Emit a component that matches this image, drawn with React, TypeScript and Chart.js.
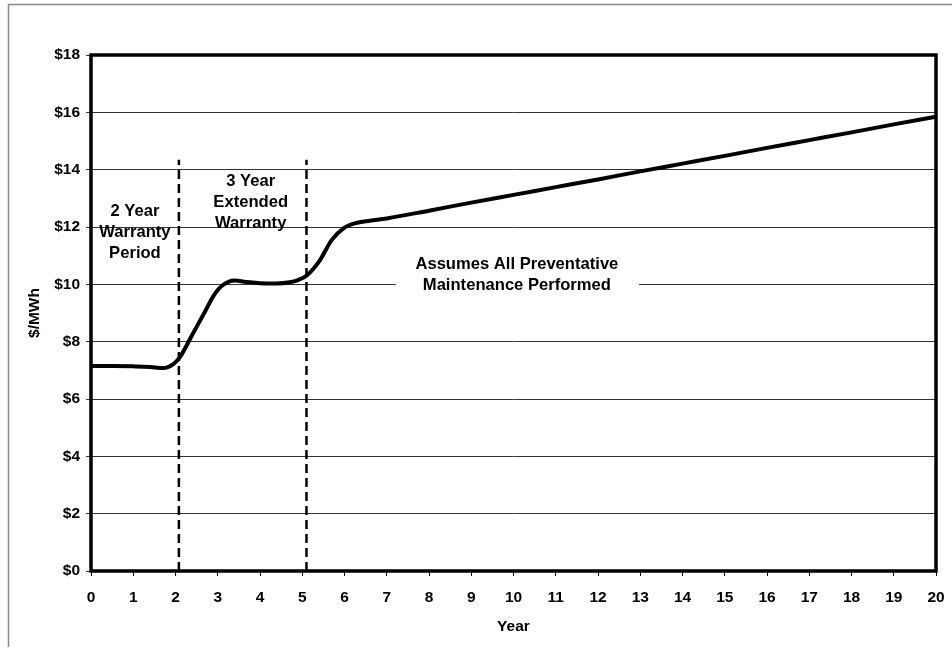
import React, { useEffect, useRef } from "react";
import { Chart, registerables } from "chart.js";

Chart.register(...registerables);

const years = [0, 0.5, 1, 1.4, 1.7, 1.95, 2.1, 2.4, 2.7, 2.9, 3.1, 3.4, 3.7, 4.0, 4.4, 4.7, 4.9, 5.1, 5.4, 5.7, 6.0, 6.3, 6.6, 7, 8, 9, 10, 11, 12, 13, 14, 15, 16, 17, 18, 19, 20];
const costs = [7.15, 7.15, 7.14, 7.12, 7.08, 7.22, 7.45, 8.25, 9.05, 9.6, 9.95, 10.13, 10.08, 10.04, 10.03, 10.07, 10.15, 10.3, 10.8, 11.55, 11.98, 12.15, 12.22, 12.3, 12.57, 12.85, 13.12, 13.39, 13.66, 13.94, 14.21, 14.48, 14.76, 15.03, 15.3, 15.58, 15.85];
const dividerYears = [2.08, 5.1];
const dividerTop = 14.35;
const yMin = 0;
const yMax = 18;
const yStep = 2;
const xMin = 0;
const xMax = 20;

const labelWarranty = ["2 Year", "Warranty", "Period"];
const labelExtended = ["3 Year", "Extended", "Warranty"];
const labelMaint = ["Assumes All Preventative", "Maintenance Performed"];
const xTitle = "Year";
const yTitle = "$/MWh";

const FONT = "'Liberation Sans', Arial, Helvetica, sans-serif";

export default function App() {
  const ref = useRef<HTMLCanvasElement | null>(null);
  useEffect(() => {
    if (!ref.current) return;
    const annot = {
      id: "annot",
      beforeDraw(chart: any) {
        const ctx = chart.ctx;
        ctx.save();
        ctx.fillStyle = "#fff";
        ctx.fillRect(0, 0, chart.width, chart.height);
        ctx.strokeStyle = "#888";
        ctx.lineWidth = 1.5;
        ctx.beginPath();
        ctx.moveTo(952, 4.5);
        ctx.lineTo(8.5, 4.5);
        ctx.lineTo(8.5, 647);
        ctx.stroke();
        ctx.restore();
      },
      beforeDatasetsDraw(chart: any) {
        const ctx = chart.ctx;
        const xs = chart.scales.x;
        const ys = chart.scales.y;
        ctx.save();
        ctx.fillStyle = "#fff";
        const cx = xs.getPixelForValue(10.08);
        const cy = ys.getPixelForValue(10);
        ctx.fillRect(cx - 121, cy - 10, 243, 20);
        ctx.restore();
      },
      afterDatasetsDraw(chart: any) {
        const ctx = chart.ctx;
        const xs = chart.scales.x;
        const ys = chart.scales.y;
        const a = chart.chartArea;
        ctx.save();
        ctx.strokeStyle = "#000";
        ctx.lineWidth = 3.5;
        ctx.strokeRect(a.left, a.top, a.right - a.left, a.bottom - a.top);
        ctx.fillStyle = "#000";
        ctx.font = `bold 16.6px ${FONT}`;
        ctx.textAlign = "center";
        ctx.textBaseline = "middle";
        const drawLines = (lines: string[], xv: number, yv: number) => {
          const px = xs.getPixelForValue(xv);
          const py = ys.getPixelForValue(yv);
          lines.forEach((l, i) => ctx.fillText(l, px, py + i * 21));
        };
        drawLines(labelWarranty, 1.04, 12.53);
        drawLines(labelExtended, 3.78, 13.58);
        drawLines(labelMaint, 10.08, 10.71);
        ctx.font = `bold 15.5px ${FONT}`;
        ctx.fillText(xTitle, (a.left + a.right) / 2, 627);
        ctx.translate(35, (a.top + a.bottom) / 2);
        ctx.rotate(-Math.PI / 2);
        ctx.fillText(yTitle, 0, 0);
        ctx.restore();
      },
    };

    const chart = new Chart(ref.current, {
      type: "line",
      data: {
        datasets: [
          {
            data: years.map((x, i) => ({ x, y: costs[i] })),
            borderColor: "#000",
            borderWidth: 4,
            pointRadius: 0,
            cubicInterpolationMode: "monotone",
            fill: false,
          },
          ...dividerYears.map((d) => ({
            data: [
              { x: d, y: yMin },
              { x: d, y: dividerTop },
            ],
            borderColor: "#000",
            borderWidth: 2.5,
            borderDash: [9, 5],
            pointRadius: 0,
            fill: false,
          })),
        ],
      },
      options: {
        responsive: false,
        animation: false,
        layout: { padding: { left: 0, top: 55, right: 16, bottom: 38 } },
        plugins: { legend: { display: false }, tooltip: { enabled: false } },
        scales: {
          x: {
            type: "linear",
            min: xMin,
            max: xMax,
            afterFit: (s: any) => {
              s.height = 40;
              s.paddingRight = 0;
              s.paddingLeft = 0;
            },
            ticks: {
              stepSize: 1,
              color: "#000",
              padding: 12,
              font: { family: FONT, weight: "bold", size: 15.5 },
            },
            grid: { drawOnChartArea: false, drawTicks: true, tickLength: 5, color: "#000" },
            border: { display: false },
          },
          y: {
            min: yMin,
            max: yMax,
            afterFit: (s: any) => {
              s.width = 91;
              s.paddingTop = 0;
              s.paddingBottom = 0;
            },
            ticks: {
              stepSize: yStep,
              color: "#000",
              padding: 6,
              font: { family: FONT, weight: "bold", size: 15.5 },
              callback: (v: any) => "$" + v,
            },
            grid: { color: "#333", lineWidth: 1, tickLength: 5 },
            border: { display: false },
          },
        },
      },
      plugins: [annot],
    } as any);
    return () => chart.destroy();
  }, []);

  return (
    <div style={{ position: "fixed", left: 0, top: 0, width: 952, height: 649 }}>
      <canvas ref={ref} width={952} height={649} style={{ width: 952, height: 649 }} />
    </div>
  );
}
